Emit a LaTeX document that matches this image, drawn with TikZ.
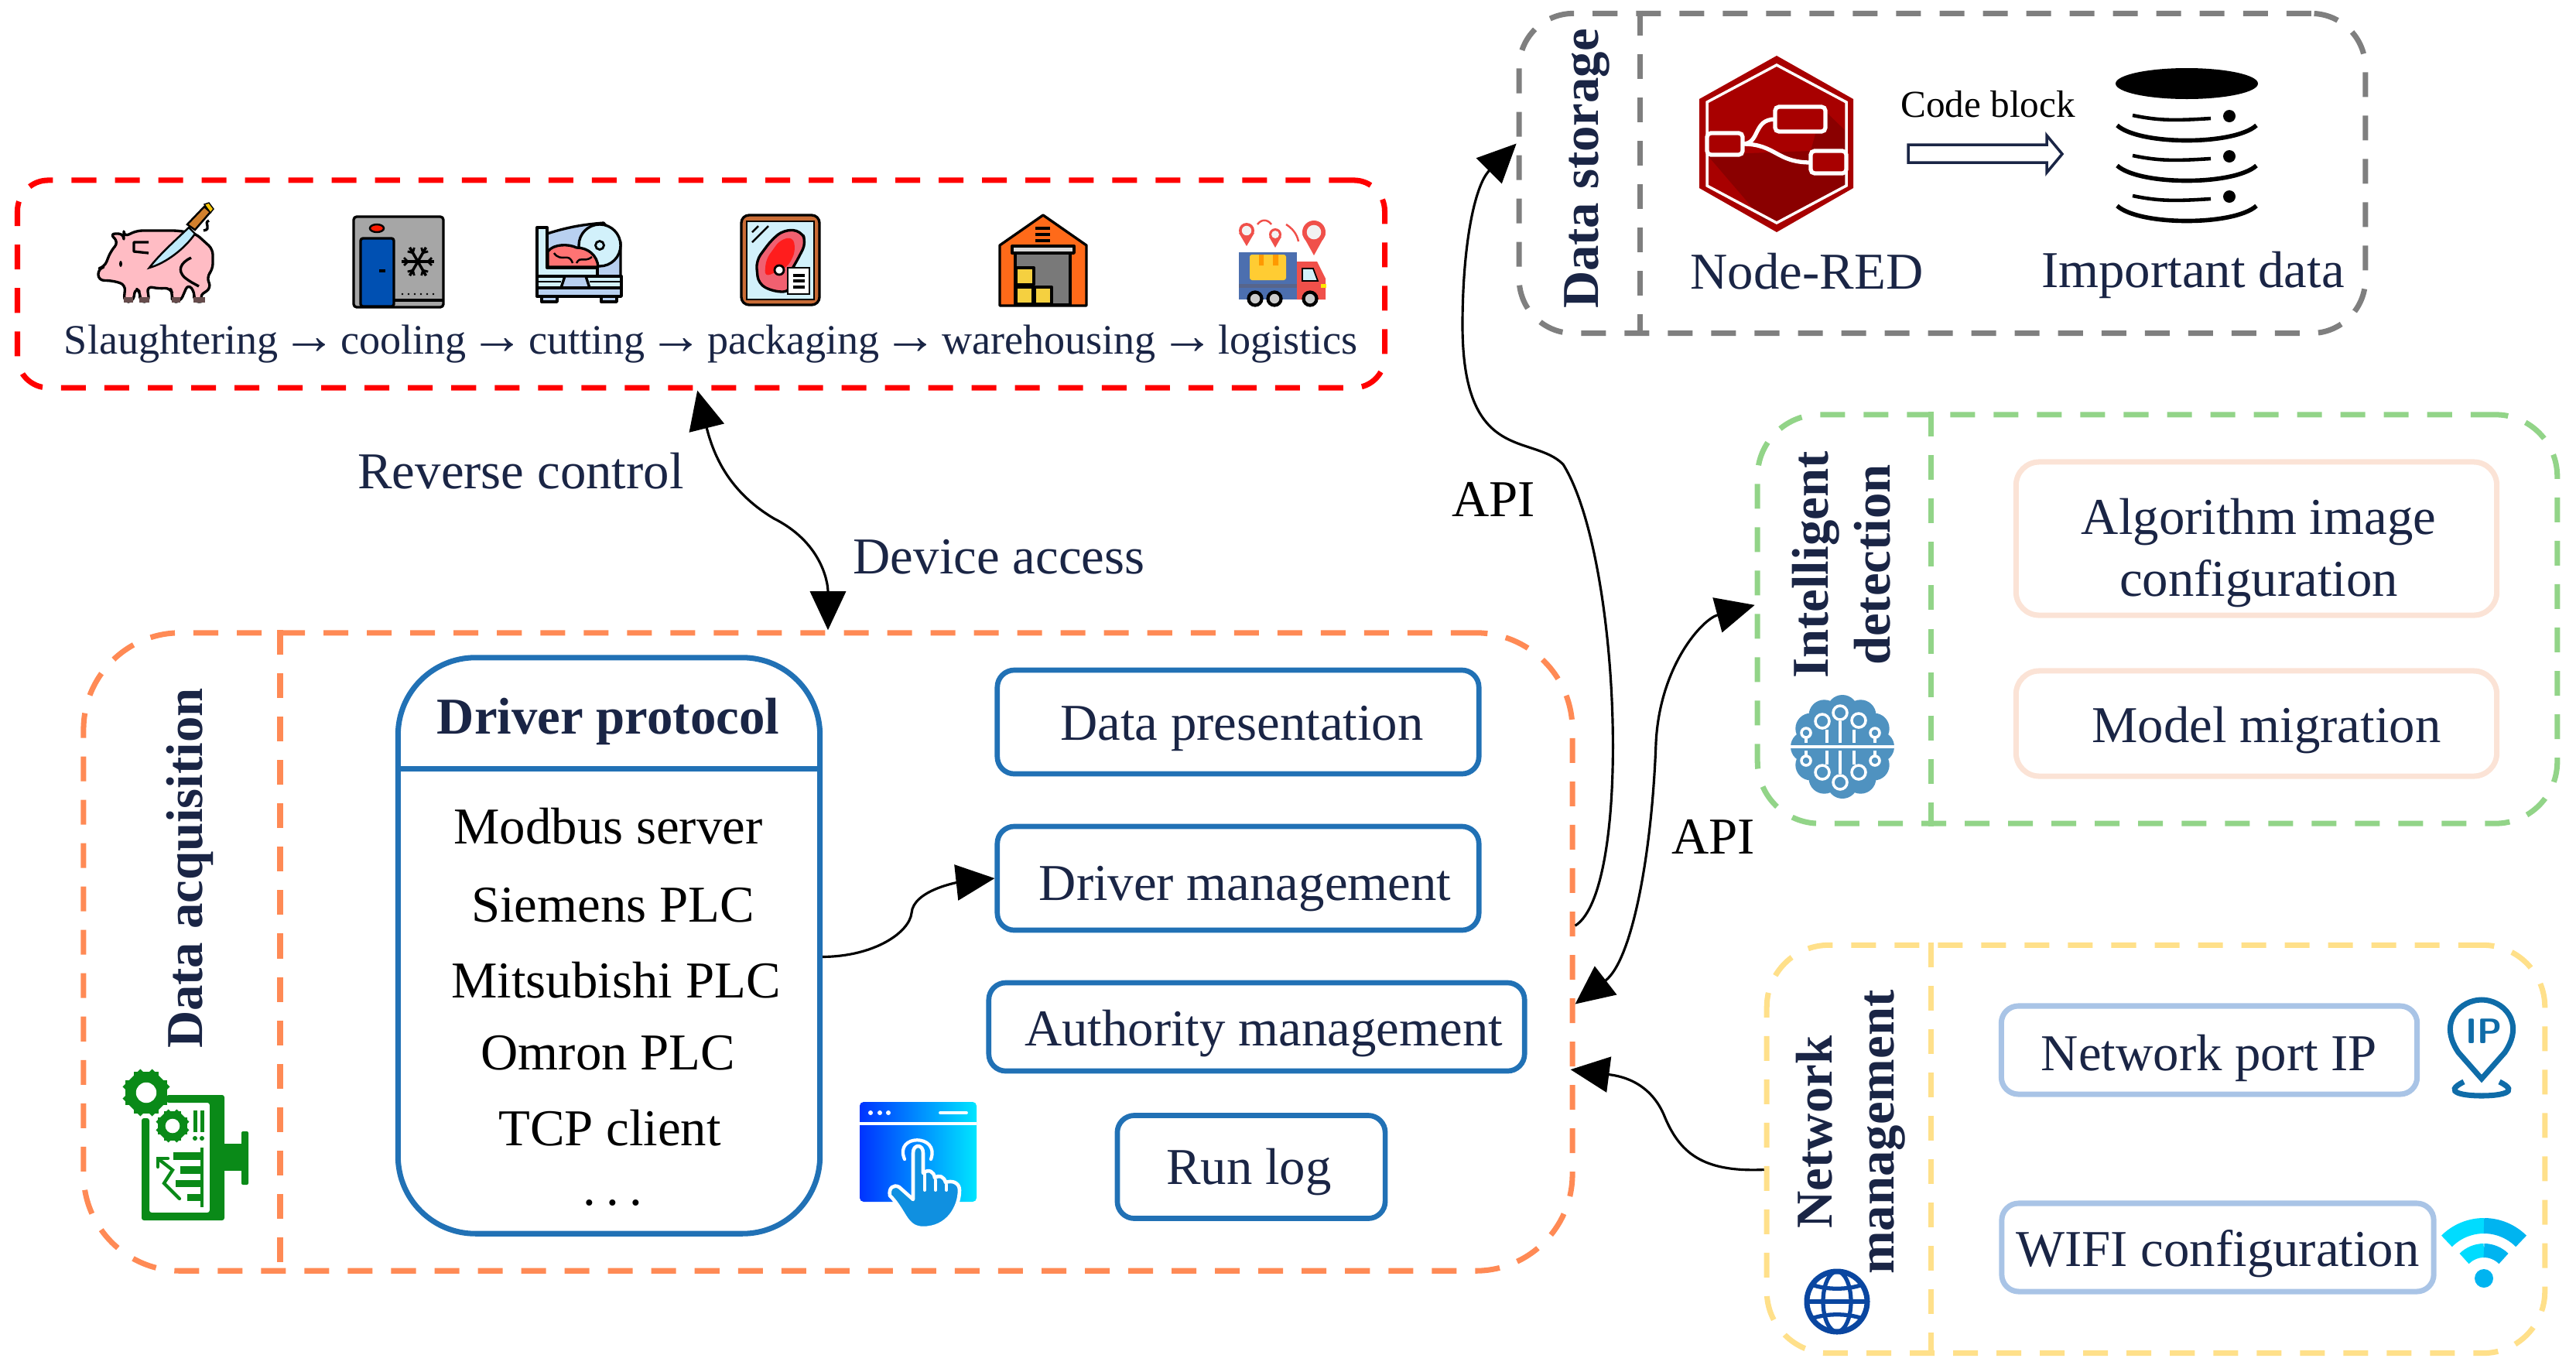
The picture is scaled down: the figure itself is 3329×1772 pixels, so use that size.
\documentclass[tikz,border=0pt]{standalone}
\usepackage{fontspec}
\setmainfont{Liberation Serif}
\usetikzlibrary{arrows.meta,shapes.geometric}
\definecolor{navy}{HTML}{1A2545}
\definecolor{platered}{HTML}{FF0000}
\definecolor{plategrey}{HTML}{7F7F7F}
\definecolor{plateorange}{HTML}{FF8A55}
\definecolor{plategreen}{HTML}{92D488}
\definecolor{plateyellow}{HTML}{FFE08A}
\definecolor{boxblue}{HTML}{2171B5}
\definecolor{boxpeach}{HTML}{FBE3D6}
\definecolor{boxsky}{HTML}{A9C4E6}
\definecolor{pigpink}{HTML}{FFBCC4}
\definecolor{pinred}{HTML}{F0504A}
\definecolor{icepale}{HTML}{D2F1FB}
\definecolor{slatepale}{HTML}{B8D0F0}
\definecolor{meatpink}{HTML}{F06070}
\definecolor{crateyellow}{HTML}{F5D040}
\definecolor{nodered}{HTML}{A80000}
\definecolor{nodedark}{HTML}{8A0000}
\definecolor{gearc}{HTML}{0A8A18}
\definecolor{handblue}{HTML}{1090E0}
\definecolor{brainc}{HTML}{4F92C0}
\definecolor{globec}{HTML}{0A46A0}
\definecolor{ipc}{HTML}{0F6CA8}
\definecolor{wifilight}{HTML}{00DCFF}
\definecolor{wifideep}{HTML}{00B4F0}
\tikzset{
  every node/.style={inner sep=0pt,text=navy,font=\fontsize{19}{22.7}\selectfont},
  plate/.style={draw,line width=2pt,dash pattern=on 0.32cm off 0.24cm,rounded corners=#1},
  sect/.style={line width=2pt,dash pattern=on 0.32cm off 0.24cm},
  drop/.style={text height=#1,text depth=0pt},
  bluebox/.style={draw=boxblue,line width=1.9pt,rounded corners=0.22cm},
  peachbox/.style={draw=boxpeach,line width=2pt,rounded corners=0.3cm},
  skybox/.style={draw=boxsky,line width=2pt,rounded corners=0.22cm},
  sidelabel/.style={rotate=90,align=center,font=\fontsize{19}{22.7}\selectfont\bfseries},
  link/.style={line width=0.9pt,-{Triangle[length=0.5cm,width=0.46cm]}},
  duallink/.style={line width=0.9pt,{Triangle[length=0.5cm,width=0.46cm]}-{Triangle[length=0.5cm,width=0.46cm]}},
  outl/.style={draw=black,line width=0.95pt,line join=round}
}
\newcommand{\chainarrow}{{\fontsize{20}{18}\selectfont\kern-0.12em→\kern-0.12em}}
% teardrop marker: x, y, radius, tip offset
\newcommand{\mappin}[4]{%
  \fill[pinred] (#1,#2) circle (#3);
  \fill[pinred] (#1,#2) ++(-#3,3) -- ++(#3,#4-3) -- ++(#3,-#4+3) -- cycle;
  \fill[gray!10] (#1,#2) circle ({0.62*#3});
}
% cog: x, y, outer radius
\newcommand{\gearmark}[3]{%
  \fill[gearc] (#1,#2) circle ({0.8*#3});
  \foreach \a in {0,45,...,315}
    \draw[gearc,line width=#3*0.34pt] (#1,#2) ++(\a:{0.6*#3}) -- ++(\a:{0.4*#3});
  \fill[white] (#1,#2) circle ({0.49*#3});
}
\begin{document}
\begin{tikzpicture}[x=0.01cm,y=-0.01cm]
  \useasboundingbox (0,0) rectangle (3329,1772);

  % plates
  \node[plate=0.4cm,draw=platered,minimum width=17.66cm,minimum height=2.68cm] (chainbox) at (906,367) {};
  \node[plate=0.7cm,draw=plategrey,minimum width=10.93cm,minimum height=4.13cm] (storebox) at (2510,224) {};
  \node[plate=1.25cm,draw=plateorange,minimum width=19.23cm,minimum height=8.24cm] (acqbox) at (1070,1230) {};
  \node[plate=0.8cm,draw=plategreen,minimum width=10.33cm,minimum height=5.28cm] (detectbox) at (2788,800) {};
  \node[plate=0.8cm,draw=plateyellow,minimum width=10.05cm,minimum height=5.27cm] (netbox) at (2786,1485) {};
  \draw[sect,plategrey] (2119,0 |- storebox.north) -- (2119,0 |- storebox.south);
  \draw[sect,plateorange] (362,0 |- acqbox.north) -- (362,0 |- acqbox.south);
  \draw[sect,plategreen] (2495,0 |- detectbox.north) -- (2495,0 |- detectbox.south);
  \draw[sect,plateyellow] (2495,0 |- netbox.north) -- (2495,0 |- netbox.south);

  % side labels
  \node[sidelabel] (storelabel) at (2051,218) {Data storage};
  \node[sidelabel] (acqlabel) at (245,1122) {Data acquisition};
  \node[sidelabel] (detectlabel) at (2380,730) {Intelligent\\detection};
  \node[sidelabel] (netlabel) at (2392,1463) {Network\\management};

  % production chain
  \node[font=\fontsize{15.4}{18}\selectfont] (chainlabel) at (919,445) {Slaughtering \chainarrow{} cooling \chainarrow{} cutting \chainarrow{} packaging \chainarrow{} warehousing \chainarrow{} logistics};

  % storage
  \node (nodered) at (2335,351) {Node-RED};
  \node (impdata) at (2834,355) {Important data};
  \node[font=\fontsize{14}{17}\selectfont,text=black] (codeblock) at (2569,135) {Code block};
  \draw[draw=navy,line width=1pt,fill=white] (2466,187) -- (2645,187) -- (2645,175) -- (2665,199) -- (2645,223) -- (2645,210) -- (2466,210) -- cycle;

  % driver protocol
  \node[draw=boxblue,line width=2pt,rounded corners=1cm,minimum width=5.45cm,minimum height=7.44cm] (driverbox) at (787,1222) {};
  \draw[boxblue,line width=2pt] (driverbox.west |- 0,993) -- (driverbox.east |- 0,993);
  \node[font=\fontsize{19}{22.7}\selectfont\bfseries] (drivertitle) at (786,932) {Driver protocol};
  \node[text=black] (modbus) at (786,1068) {Modbus server};
  \node[text=black] (siemens) at (792,1170) {Siemens PLC};
  \node[text=black] (mitsu) at (796,1267) {Mitsubishi PLC};
  \node[text=black] (omron) at (786,1361) {Omron PLC};
  \node[text=black] (tcp) at (788,1458) {TCP client};
  \node[text=black] (moredots) at (792,1554) {.\kern.2em.\kern.2em.};

  \node[bluebox,drop=0.47cm,minimum width=6.22cm,minimum height=1.34cm] (present) at (1600,933) {\hspace*{0.1cm}Data presentation};
  \node[bluebox,drop=0.56cm,minimum width=6.22cm,minimum height=1.34cm] (drvmgmt) at (1600,1135) {\hspace*{0.18cm}Driver management};
  \node[bluebox,drop=0.48cm,minimum width=6.92cm,minimum height=1.14cm] (authmgmt) at (1624,1327) {\hspace*{0.18cm}Authority management};
  \node[bluebox,drop=0.44cm,minimum width=3.46cm,minimum height=1.33cm] (runlog) at (1617,1508) {\hspace*{-0.06cm}Run log};

  % detection
  \node[peachbox,minimum width=6.21cm,minimum height=1.98cm,align=center] (imgconf) at (2916,696) {\hspace*{0.06cm}\rule{0pt}{0.83cm}Algorithm image\\\hspace*{0.06cm}configuration};
  \node[peachbox,drop=0.48cm,minimum width=6.21cm,minimum height=1.36cm] (migrate) at (2916,935) {\hspace*{0.26cm}Model migration};

  % network
  \node[skybox,drop=0.52cm,minimum width=5.37cm,minimum height=1.14cm] (portip) at (2855,1357) {Network port IP};
  \node[skybox,drop=0.48cm,minimum width=5.58cm,minimum height=1.14cm] (wificonf) at (2866,1612) {WIFI configuration};

  % connector labels
  \node (revlabel) at (673,609) {Reverse control};
  \node (acclabel) at (1291,720) {Device access};
  \node[text=black] (apiup) at (1930,645) {API};
  \node[text=black] (apiside) at (2214,1081) {API};

  % connectors
  \draw[duallink] (chainbox.268.5) .. controls (925,600) and (950,640) .. (1000,670) .. controls (1060,700) and (1070,750) .. (acqbox.90.5);
  \draw[link] (acqbox.2.7) .. controls (2110,1150) and (2095,720) .. (2020,600) .. controls (1980,560) and (1890,600) .. (1890,420) .. controls (1890,320) and (1905,240) .. (storebox.176.5);
  \draw[duallink] (acqbox.356.8) .. controls (2110,1240) and (2135,1100) .. (2140,960) .. controls (2145,860) and (2200,800) .. (detectbox.178.9);
  \draw[link,shorten >=-0.06cm] (netbox.183.9) .. controls (2200,1515) and (2170,1490) .. (2150,1440) .. controls (2130,1395) and (2090,1390) .. (acqbox.351.4);
  \draw[link] (driverbox.357.1) .. controls (1130,1236) and (1175,1205) .. (1178,1180) .. controls (1180,1150) and (1240,1140) .. (drvmgmt.west);

  % pig
  \draw[outl] (270,285) .. controls (262,288) and (275,296) .. (263,298);
  \draw[outl,fill=pigpink,rounded corners=0.07cm] (160,306) -- (177,298) -- (230,298) -- (253,302) -- (275,322) -- (275,348) -- (267,358) -- (273,372) -- (257,383) -- (265,390) -- (250,390) -- (252,378) -- (243,367) -- (233,390) -- (222,390) -- (223,380) -- (220,372) -- (205,373) -- (190,370) -- (193,390) -- (180,390) -- (182,378) -- (175,372) -- (172,390) -- (160,390) -- (162,368) -- (147,363) -- (127,362) -- (127,347) -- (135,345) -- (143,325) -- (153,313) -- (142,302) -- (160,302) -- cycle;
  \foreach \x/\w in {160/12,180/13,222/11,250/15}
    \fill[black!60!pink] (\x,384) rectangle ++(\w,7);
  \fill[black] (156,341) ellipse (2 and 4);
  \draw[outl] (192,313) -- (173,313) -- (173,325) -- (192,327);
  \draw[outl] (247,333) .. controls (232,340) and (230,350) .. (238,358) .. controls (245,364) and (250,366) .. (257,370);
  \draw[black,line width=0.7pt,fill=brown!70!orange] (242,290) -- (264,267) -- (272,274) -- (252,297) -- cycle;
  \draw[black,line width=0.4pt,fill=yellow!60!orange] (264,264) -- (270,262) -- (276,270) -- (272,275) -- cycle;
  \draw[black,line width=0.7pt,fill=cyan!25] (244,294) -- (252,302) .. controls (240,320) and (215,340) .. (193,346) .. controls (205,330) and (225,312) .. cycle;

  % freezer
  \draw[outl,fill=gray!70,rounded corners=0.04cm] (457,280) rectangle (573,397);
  \draw[black,line width=0.7pt,fill=red!80!orange] (487,295) ellipse (9 and 5);
  \draw[outl,fill=blue!55!cyan!70!black,rounded corners=0.03cm] (466,308) rectangle (509,396);
  \draw[black,line width=1pt] (490,350) -- (498,350);
  \foreach \a in {0,60,...,300}{
    \draw[black,line width=1pt] (540,338) -- ++(\a:21);
    \draw[black,line width=0.8pt] (540,338) ++(\a:13) -- ++({\a+45}:7);
    \draw[black,line width=0.8pt] (540,338) ++(\a:13) -- ++({\a-45}:7);
  }
  \draw[black,line width=0.9pt] (509,388) -- (572,388);
  \foreach \x in {520,528,...,560}
    \fill[black] (\x,380) circle (1.4);

  % slicer
  \draw[outl,fill=slatepale] (707,302) .. controls (735,293) and (755,290) .. (780,288) -- (802,313) -- (802,357) -- (707,357) -- cycle;
  \draw[outl,fill=icepale] (775,317) circle (27);
  \draw[black,line width=0.8pt,fill=icepale] (775,317) circle (5.5);
  \draw[outl,fill=pink!60!red] (708,345) -- (708,325) .. controls (715,315) and (735,315) .. (745,320) .. controls (760,320) and (772,330) .. (773,345) -- cycle;
  \draw[black,line width=0.7pt] (716,327) .. controls (725,340) and (735,325) .. (740,340);
  \draw[black,line width=0.7pt] (745,340) .. controls (750,330) and (755,340) .. (765,332);
  \draw[outl,fill=icepale] (694,294) -- (707,294) -- (707,346) -- (772,346) -- (772,357) -- (694,357) -- cycle;
  \draw[outl,fill=icepale] (694,357) rectangle (803,372);
  \draw[outl,fill=slatepale] (730,357) -- (757,357) -- (762,372) -- (725,372) -- cycle;
  \draw[black,line width=0.7pt] (694,364) -- (725,364) (762,364) -- (803,364);
  \draw[outl,fill=slatepale] (694,372) rectangle (803,383);
  \draw[outl,fill=slatepale] (700,383) rectangle (720,390);
  \draw[outl,fill=slatepale] (777,383) rectangle (797,390);

  % packaged meat
  \draw[outl,fill=brown!85!red,rounded corners=0.1cm] (958,278) rectangle (1059,394);
  \draw[black,line width=0.7pt,fill=icepale] (965,286) rectangle (1052,387);
  \draw[black,line width=0.7pt] (972,300) -- (980,292) (972,313) -- (993,292);
  \draw[outl,fill=meatpink,rounded corners=0.1cm] (1035,298) -- (1013,297) -- (997,310) -- (977,337) -- (980,367) -- (1000,377) -- (1022,377) -- (1022,350) -- (1030,337) -- (1042,313) -- cycle;
  \fill[red!85!pink,rounded corners=0.08cm] (1025,306) -- (1008,310) -- (990,335) -- (988,358) -- (1018,345) -- (1028,325) -- cycle;
  \draw[black,line width=0.8pt,fill=white] (1007,349) circle (6);
  \draw[black,line width=0.7pt,fill=white] (1018,346) rectangle (1046,380);
  \foreach \y in {356,363,371}
    \draw[black,line width=1pt] (1025,\y) -- (1040,\y);

  % warehouse
  \draw[outl,fill=orange!70!red!90!white] (1348,278) -- (1404,317) -- (1404,395) -- (1292,395) -- (1292,317) -- cycle;
  \draw[outl,fill=gray!95!black] (1312,327) rectangle (1383,394);
  \draw[outl,fill=white!85!black] (1308,318) rectangle (1388,327);
  \draw[outl,fill=crateyellow] (1313,346) rectangle (1336,368);
  \draw[outl,fill=crateyellow] (1313,371) rectangle (1335,393);
  \draw[outl,fill=crateyellow] (1337,371) rectangle (1359,393);
  \foreach \y in {295,303,311}
    \draw[black,line width=1.1pt] (1338,\y) -- (1357,\y);

  % truck
  \mappin{1611}{298}{10}{20}
  \mappin{1648}{303}{8}{17}
  \mappin{1698}{300}{15}{30}
  \draw[pinred,line width=0.7pt] (1625,290) .. controls (1630,283) and (1638,283) .. (1643,290);
  \draw[pinred,line width=0.7pt] (1662,290) .. controls (1670,295) and (1676,302) .. (1678,312);
  \fill[cyan!40!blue!70!gray] (1601,326) rectangle (1676,387);
  \fill[cyan!40!blue!70!gray!70!black] (1601,367) rectangle (1676,372);
  \fill[orange!50!yellow!80,rounded corners=0.03cm] (1615,329) rectangle (1662,362);
  \fill[orange!80!yellow] (1627,329) rectangle (1633,343) (1645,329) rectangle (1652,343);
  \fill[pinred] (1676,338) -- (1702,338) -- (1713,360) -- (1713,387) -- (1676,387) -- cycle;
  \draw[black,line width=0.5pt,fill=icepale] (1683,347) -- (1697,347) -- (1703,363) -- (1683,363) -- cycle;
  \fill[yellow!90!orange] (1707,367) rectangle (1714,372);
  \foreach \x in {1622,1647,1693}
    \draw[black,line width=1.2pt,fill=gray!40] (\x,386) circle (8.5);

  % node-red hexagon
  \fill[nodered] (2296,72) -- (2395,128) -- (2395,243) -- (2296,300) -- (2196,243) -- (2196,128) -- cycle;
  \fill[nodedark] (2206,200) -- (2278,284) -- (2296,288) -- (2386,240) -- (2386,170) -- (2355,140) -- (2340,195) -- cycle;
  \draw[white,line width=1pt] (2296,84) -- (2386,132) -- (2386,240) -- (2296,288) -- (2206,240) -- (2206,132) -- cycle;
  \draw[white,line width=1.5pt] (2252,186) .. controls (2275,186) and (2265,154) .. (2294,154);
  \draw[white,line width=1.5pt] (2252,186) .. controls (2295,186) and (2295,210) .. (2340,210);
  \draw[white,line width=1.5pt,fill=nodered,rounded corners=0.05cm] (2294,138) rectangle (2359,170);
  \draw[white,line width=1.5pt,fill=nodered,rounded corners=0.05cm] (2206,172) rectangle (2252,200);
  \draw[white,line width=1.5pt,fill=nodered,rounded corners=0.05cm] (2340,195) rectangle (2386,224);

  % database
  \fill[black] (2826,108) ellipse (92 and 20);
  \foreach \dy in {0,52,104}{
    \draw[black,line width=1.6pt] (2736,{162+\dy}) .. controls (2765,{188+\dy}) and (2887,{188+\dy}) .. (2916,{162+\dy});
    \draw[black,line width=1.3pt] (2756,{149+\dy}) .. controls (2790,{156+\dy}) and (2810,{156+\dy}) .. (2857,{153+\dy});
    \fill[black] (2881,{150+\dy}) ellipse (8 and 8);
  }

  % monitor with gears
  \fill[gearc,rounded corners=0.03cm] (215,1415) -- (290,1415) -- (290,1577) -- (183,1577) -- (183,1445) -- (193,1445) -- (193,1567) -- (271,1567) -- (271,1425) -- (215,1425) -- cycle;
  \fill[gearc] (290,1478) rectangle (313,1513);
  \fill[gearc,rounded corners=0.02cm] (312,1462) rectangle (321,1531);
  \gearmark{189}{1412}{27}
  \gearmark{223}{1455}{19}
  \foreach \x in {252,261}{
    \fill[gearc] ({\x-2.5},1435) rectangle ({\x+2.5},1463);
    \fill[gearc] (\x,1471) circle (3);
  }
  \fill[gearc] (259,1483) rectangle (263,1560);
  \fill[gearc] (224,1489) rectangle (261,1499);
  \fill[gearc] (233,1507) rectangle (261,1517);
  \fill[gearc] (227,1525) rectangle (261,1534);
  \fill[gearc] (242,1543) rectangle (261,1552);
  \draw[gearc,line width=1.2pt,line cap=round] (232,1549) -- (212,1529) -- (223,1512) -- (205,1498);
  \draw[gearc,line width=1.2pt,line cap=round] (217,1497) -- (204,1497) -- (204,1508);

  % touch window
  \shade[left color=blue!80!cyan,right color=cyan!90!blue,rounded corners=0.05cm] (1111,1424) rectangle (1262,1553);
  \draw[white,line width=1.3pt] (1111,1452) -- (1262,1452);
  \foreach \x in {1125,1137,1148}
    \fill[white] (\x,1438) circle (3);
  \draw[white,line width=1.1pt,line cap=round] (1215,1438) -- (1249,1438);
  \draw[white,line width=1.2pt,line cap=round] (1169,1498) .. controls (1155,1465) and (1215,1465) .. (1203,1498);
  \draw[white,line width=1.3pt,fill=handblue,line join=round] (1180,1490) .. controls (1180,1478) and (1193,1478) .. (1193,1490) -- (1193,1516) .. controls (1200,1510) and (1207,1514) .. (1208,1522) .. controls (1213,1518) and (1220,1520) .. (1222,1528) .. controls (1230,1525) and (1240,1528) .. (1240,1538) .. controls (1240,1560) and (1225,1587) .. (1193,1587) .. controls (1170,1587) and (1170,1565) .. (1150,1545) .. controls (1148,1535) and (1155,1530) .. (1162,1534) -- (1180,1550) -- cycle;
  \draw[white,line width=1.1pt,line cap=round] (1195,1515) -- (1195,1538) (1209,1525) -- (1209,1538) (1223,1531) -- (1223,1538);

  % brain
  \foreach \a in {0,30,...,330}
    \fill[brainc] (2381,965) ++(\a:47) circle (20);
  \fill[brainc] (2381,965) circle (50);
  \draw[white,line width=1.1pt] (2314,965) -- (2448,965);
  \draw[white,line width=1pt] (2378,932) -- (2378,960) (2361,943) -- (2361,960) (2396,943) -- (2396,960) (2334,953) -- (2334,960) (2423,953) -- (2423,960);
  \draw[white,line width=1pt] (2378,970) -- (2378,1000) (2361,970) -- (2361,988) (2396,970) -- (2396,988) (2334,970) -- (2334,977) (2423,970) -- (2423,977);
  \foreach \x/\y/\r in {2378/921/9,2355/932/9,2402/931/9,2334/947/6,2423/947/6,2378/1011/9,2355/998/9,2402/998/9,2334/983/6,2423/983/6}
    \draw[white,line width=1pt] (\x,\y) circle (\r);

  % globe
  \draw[globec,line width=2pt] (2374,1682) circle (39);
  \draw[globec,line width=1.5pt] (2374,1682) ellipse (18 and 39);
  \draw[globec,line width=1.5pt] (2335,1682) -- (2413,1682);
  \draw[globec,line width=1.5pt] (2341,1660) .. controls (2360,1667) and (2388,1667) .. (2407,1660);
  \draw[globec,line width=1.5pt] (2341,1704) .. controls (2360,1697) and (2388,1697) .. (2407,1704);

  % ip marker
  \draw[ipc,line width=2pt] (3207,1394) -- (3177,1360) .. controls (3150,1320) and (3180,1292) .. (3207,1292) .. controls (3234,1292) and (3264,1320) .. (3237,1360) -- cycle;
  \draw[ipc,line width=2pt] (3184,1398) .. controls (3155,1412) and (3185,1416) .. (3207,1416) .. controls (3229,1416) and (3259,1412) .. (3230,1398);
  \node[text=ipc,font=\fontsize{13}{15}\selectfont\sffamily\bfseries] (iptext) at (3210,1333) {IP};

  % wifi
  \draw[wifilight,line width=0.2cm] (3210,1652) ++(-135:68) arc (-135:-90:68);
  \draw[wifideep,line width=0.2cm] (3210,1652) ++(-90:68) arc (-90:-45:68);
  \draw[wifilight,line width=0.18cm] (3210,1652) ++(-135:36) arc (-135:-90:36);
  \draw[wifideep,line width=0.18cm] (3210,1652) ++(-90:36) arc (-90:-45:36);
  \fill[wifideep] (3210,1652) circle (12);
\end{tikzpicture}
\end{document}
